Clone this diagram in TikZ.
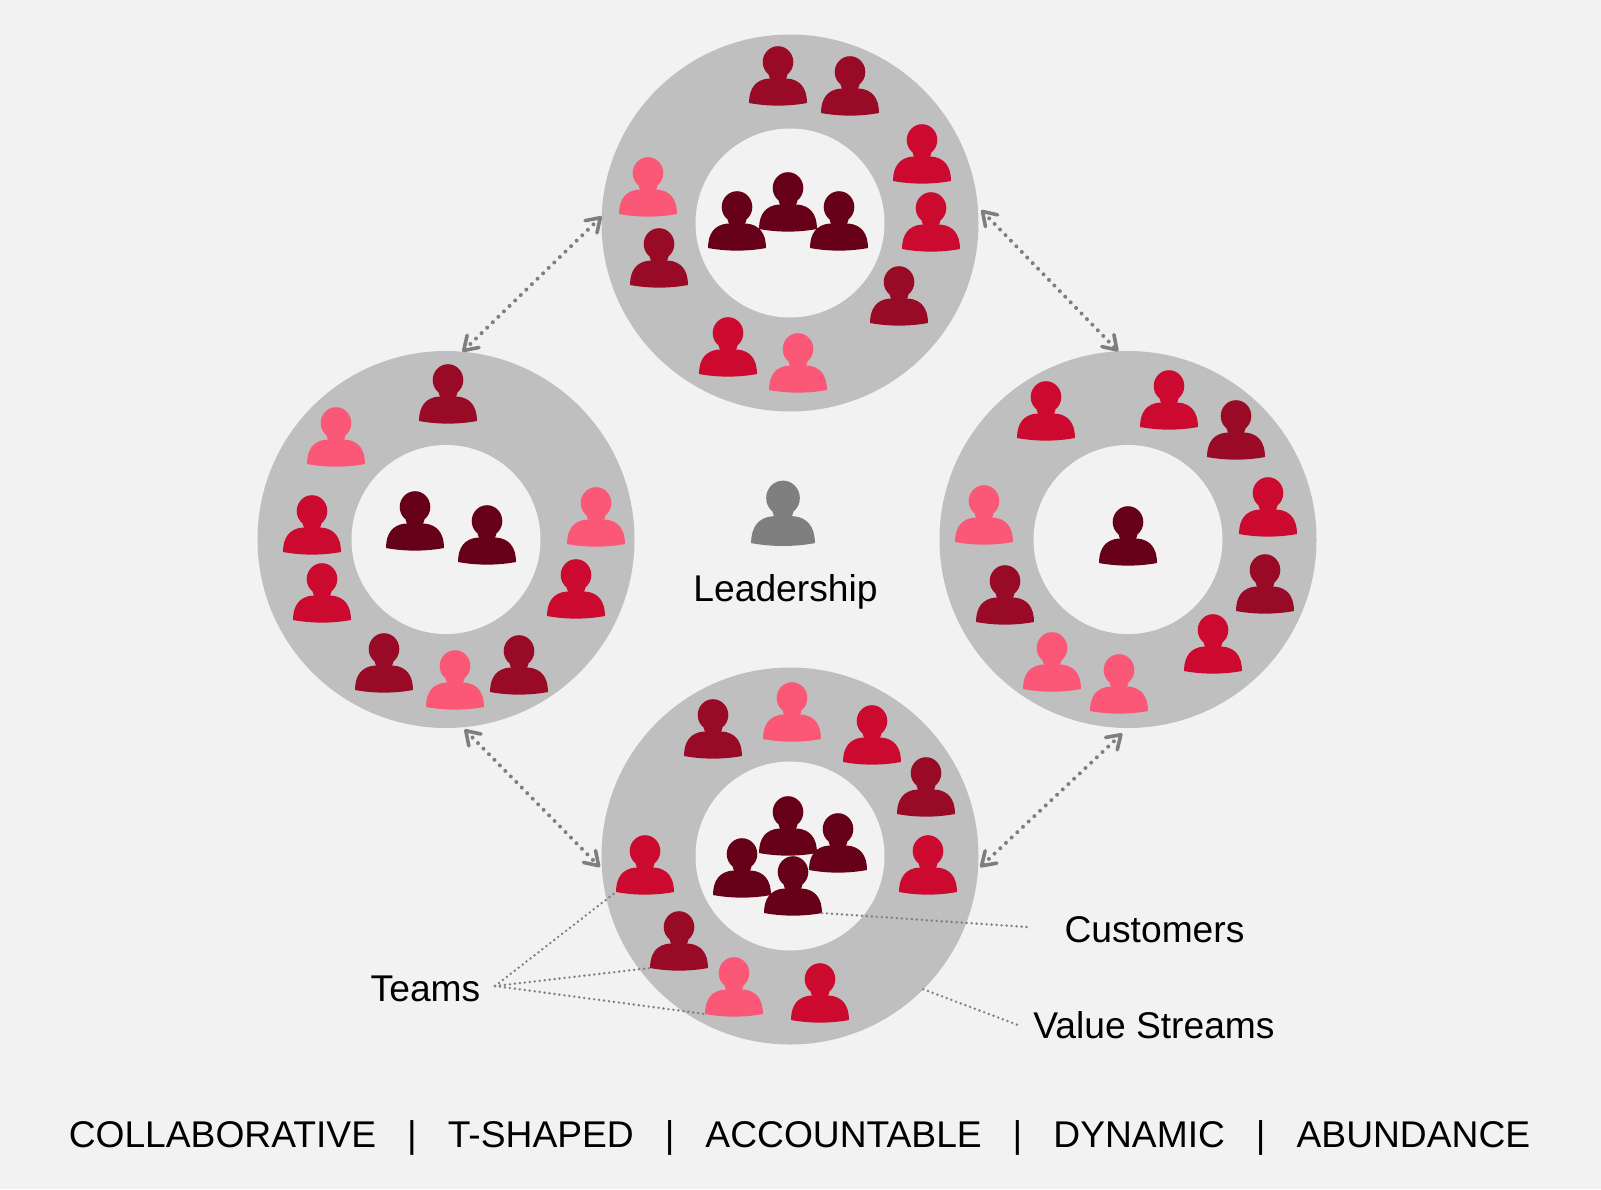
\documentclass[tikz,border=0pt]{standalone}
\usepackage{fontspec}
\setmainfont{Liberation Sans}
\usetikzlibrary{arrows.meta}
\definecolor{pageBg}{HTML}{F2F2F2}
\definecolor{ringGray}{HTML}{BFBFBF}
\definecolor{linkGray}{HTML}{7F7F7F}
\definecolor{cDeep}{HTML}{660018}
\definecolor{cDark}{HTML}{990A26}
\definecolor{cRed}{HTML}{CC0A30}
\definecolor{cPink}{HTML}{FA5876}
\tikzset{
  ring/.style={circle,fill=ringGray,minimum size=377pt,inner sep=0pt,outer sep=0pt},
  hole/.style={circle,fill=pageBg,minimum size=189pt,inner sep=0pt,outer sep=0pt},
  label/.style={inner sep=0pt,font=\fontsize{37.2}{37.2}\selectfont},
  link/.style={draw=linkGray,line width=4pt,line cap=round,dash pattern=on 0pt off 7.8pt,
    {Straight Barb[length=13pt,width=17pt,line width=3.6pt,round]}-{Straight Barb[length=13pt,width=17pt,line width=3.6pt,round]}},
  leader/.style={draw=linkGray,line width=2.7pt,line cap=round,dash pattern=on 0pt off 5pt},
  pics/person/.style={code={
    \fill[#1] (0,0) ellipse (15.3 and 15.8);
    \fill[#1] (-9.5,12.5) -- (9.5,12.5) -- (8,17) -- (-8,17) -- cycle;
    \fill[#1] (-29,41) .. controls (-29,26) and (-22,17.5) .. (-9,16.5) -- (9,16.5)
      .. controls (22,17.5) and (29,26) .. (29,41) .. controls (10,44.5) and (-10,44.5) .. (-29,41) -- cycle;
    \coordinate (-sw) at (-29,41);
    \coordinate (-se) at (29,41);
  }}
}
\begin{document}
\begin{tikzpicture}[x=1pt,y=-1pt]
\fill[pageBg] (0,0) rectangle (1601,1189);
\useasboundingbox (0,0) rectangle (1601,1189);

% Rings
\node[ring] (top)    at (790,223)  {};
\node[ring] (left)   at (446,539.5)  {};
\node[ring] (right)  at (1128,539.5) {};
\node[ring] (bottom) at (790,856)  {};
\node[hole] (tophole)    at (top)    {};
\node[hole] (lefthole)   at (left)   {};
\node[hole] (righthole)  at (right)  {};
\node[hole] (bottomhole) at (bottom) {};

% Links
\draw[link] (top.178) -- (left.85);
\draw[link,shorten <=5pt] (top.5.5) -- (right.93);
\draw[link,shorten <=3pt,shorten >=3pt] (left.-85) -- (bottom.184);
\draw[link,shorten <=8pt,shorten >=3pt] (right.-90) -- (bottom.-4);

% Top team
\foreach \px/\py/\pc in {778/62/cDark,850/72/cDark,922/140/cRed,931/208/cRed,899/282/cDark,
    798/349/cPink,728/333/cRed,659/244/cDark,648/173/cPink,
    788/188/cDeep,737/207/cDeep,839/207/cDeep}
  \pic at (\px,\py) {person=\pc};
% Left team
\foreach \px/\py/\pc in {448/380/cDark,336/423/cPink,312/511/cRed,322/579/cRed,384/649/cDark,
    455/666/cPink,519/651/cDark,576/575/cRed,596/503/cPink,
    415/507/cDeep,487/521/cDeep}
  \pic at (\px,\py) {person=\pc};
% Right team
\foreach \px/\py/\pc in {1046/397/cRed,1169/386/cRed,1236/416/cDark,1268/493/cRed,1265/570/cDark,
    1213/630/cRed,1119/670/cPink,1052/648/cPink,1005/581/cDark,984/501/cPink,
    1128/522/cDeep}
  \pic at (\px,\py) {person=\pc};
% Bottom team
\foreach \px/\py/\pc in {713/715/cDark,792/698/cPink,872/721/cRed,926/773/cDark,928/851/cRed,820/979/cRed,
    788/812/cDeep,838/829/cDeep,742/854/cDeep}
  \pic at (\px,\py) {person=\pc};
\pic (customer) at (793,872) {person=cDeep};
\pic (teamA) at (645,851) {person=cRed};
\pic (teamB) at (679,927) {person=cDark};
\pic (teamC) at (734,973) {person=cPink};

% Leadership
\pic[scale=1.1] (leader) at (783,498) {person=linkGray};
\node[label] (leadership) at (785.5,592) {Leadership};

% Labels
\node[label,anchor=east] (teams) at (480.5,989) {Teams};
\node[label] (customers) at (1154.5,930) {Customers};
\node[label] (streams) at (1154,1025) {Value Streams};
\node[label] (values) at (799.5,1138)
  {COLLABORATIVE\ \ \ |\ \ \ T-SHAPED\ \ \ |\ \ \ ACCOUNTABLE\ \ \ |\ \ \ DYNAMIC\ \ \ |\ \ \ ABUNDANCE};

\coordinate (teamsend) at (495,986);
\coordinate (customersend) at (1027,927);
\coordinate (streamsend) at (1018,1025);
\draw[leader] (teamsend) -- (teamA-sw);
\draw[leader] (teamsend) -- (teamB-sw);
\draw[leader] (teamsend) -- (teamC-sw);
\draw[leader] (customer-se) -- (customersend);
\draw[leader] (bottom.-45) -- (streamsend);
\end{tikzpicture}
\end{document}
